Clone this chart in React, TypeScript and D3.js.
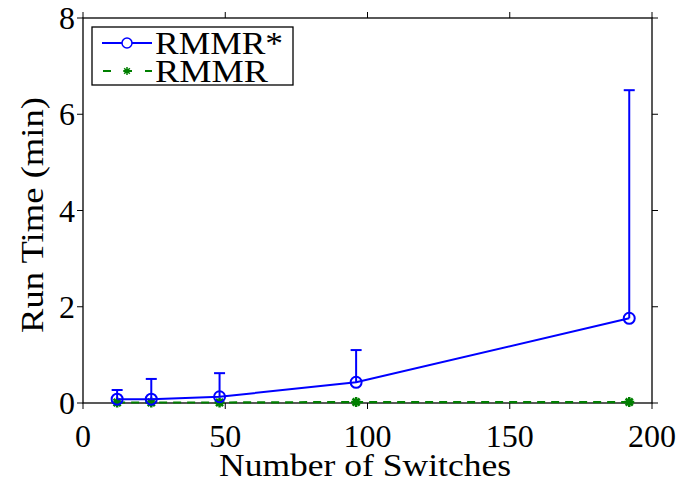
import { useMemo } from "react"
import * as d3 from "d3"

const switches = [12, 24, 48, 96, 192]
const rmmrStarMean = [0.08, 0.08, 0.13, 0.43, 1.76]
const rmmrStarUpper = [0.27, 0.5, 0.62, 1.1, 6.5]
const rmmrMean = [0.01, 0.01, 0.01, 0.02, 0.02]

const xTicks = [0, 50, 100, 150, 200]
const yTicks = [0, 2, 4, 6, 8]

const W = 680
const H = 488

const App = () => {
  const x = useMemo(() => d3.scaleLinear().domain([0, 200]).range([83, 652]), [])
  const y = useMemo(() => d3.scaleLinear().domain([0, 8]).range([403, 18]), [])

  const line = d3.line<number>()
    .x((_, i) => x(switches[i]))
    .y(d => y(d))

  // asterisk marker like matlab '*'
  const starPath = (cx: number, cy: number, r: number) => {
    let d = ""
    for (let k = 0; k < 4; k++) {
      const a = (k * Math.PI) / 4
      const dx = r * Math.cos(a)
      const dy = r * Math.sin(a)
      d += `M${cx - dx},${cy - dy}L${cx + dx},${cy + dy}`
    }
    return d
  }

  const [x0, x1] = x.range()
  const [y0, y1] = y.range()
  const txt = { fontFamily: "Liberation Serif" }

  return (
    <svg width={W} height={H} style={{ position: "absolute", left: 0, top: 0, background: "#fff" }}>
      <rect x={0} y={0} width={W} height={H} fill="#fff" />

      <rect x={x0} y={y1} width={x1 - x0} height={y0 - y1} fill="none" stroke="#000" strokeWidth={1.3} />

      {xTicks.map(v => (
        <g key={"x" + v}>
          <line x1={x(v)} x2={x(v)} y1={y0} y2={y0 + 6} stroke="#000" />
          <line x1={x(v)} x2={x(v)} y1={y1} y2={y1 - 6} stroke="#000" />
          <text x={x(v)} y={447} textAnchor="middle" fontSize={32} style={txt}>{v}</text>
        </g>
      ))}

      {yTicks.map(v => (
        <g key={"y" + v}>
          <line x1={x0 - 6} x2={x0} y1={y(v)} y2={y(v)} stroke="#000" />
          <line x1={x1} x2={x1 + 6} y1={y(v)} y2={y(v)} stroke="#000" />
          <text x={75} y={y(v) + 11} textAnchor="end" fontSize={32} style={txt}>{v}</text>
        </g>
      ))}

      <text x={219} y={476} fontSize={31} textLength={292} lengthAdjust="spacingAndGlyphs" style={txt}>Number of Switches</text>
      <text transform={`translate(43, 333) rotate(-90)`} fontSize={31} textLength={236} lengthAdjust="spacingAndGlyphs" style={txt}>Run Time (min)</text>

      {/* RMMR */}
      <path d={line(rmmrMean) ?? ""} fill="none" stroke="#007f00" strokeWidth={2.2} strokeDasharray="8,6" />
      {rmmrMean.map((v, i) => (
        <path key={"g" + i} d={starPath(x(switches[i]), y(v), 5)} stroke="#007f00" strokeWidth={2.5} fill="none" />
      ))}

      {/* RMMR* with error bars */}
      {rmmrStarMean.map((v, i) => (
        <g key={"e" + i} stroke="#0000ff" strokeWidth={2}>
          <line x1={x(switches[i])} x2={x(switches[i])} y1={y(v)} y2={y(rmmrStarUpper[i])} />
          <line x1={x(switches[i]) - 5.5} x2={x(switches[i]) + 5.5} y1={y(rmmrStarUpper[i])} y2={y(rmmrStarUpper[i])} />
        </g>
      ))}
      <path d={line(rmmrStarMean) ?? ""} fill="none" stroke="#0000ff" strokeWidth={2} />
      {rmmrStarMean.map((v, i) => (
        <circle key={"c" + i} cx={x(switches[i])} cy={y(v)} r={5.5} fill="none" stroke="#0000ff" strokeWidth={2} />
      ))}

      {/* legend */}
      <g>
        <rect x={92} y={27} width={201} height={58} fill="#fff" stroke="#000" strokeWidth={1.3} />
        <line x1={102} x2={152} y1={43} y2={43} stroke="#0000ff" strokeWidth={2} />
        <circle cx={127} cy={43} r={5} fill="#fff" stroke="#0000ff" strokeWidth={1.5} />
        <text x={155} y={54} fontSize={31} textLength={128} lengthAdjust="spacingAndGlyphs" style={txt}>RMMR*</text>
        <line x1={102} x2={152} y1={71} y2={71} stroke="#007f00" strokeWidth={2} strokeDasharray="8,13" strokeDashoffset={-1} />
        <path d={starPath(127, 71, 4)} stroke="#007f00" strokeWidth={1.5} fill="none" />
        <text x={155} y={82} fontSize={31} textLength={113} lengthAdjust="spacingAndGlyphs" style={txt}>RMMR</text>
      </g>
    </svg>
  )
}

export default App
